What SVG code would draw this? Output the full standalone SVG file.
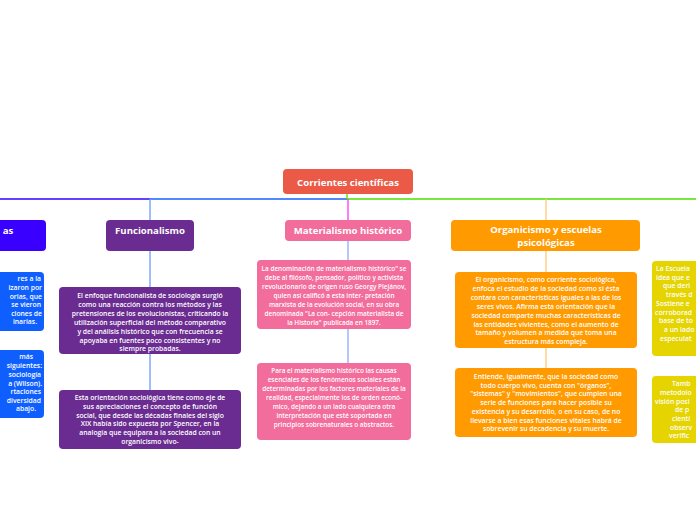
<svg xmlns="http://www.w3.org/2000/svg" width="696" height="520" viewBox="0 0 696 520">
<style>
.t{font-family:"Open Sans","Liberation Sans",sans-serif;fill:#fff;font-weight:600;font-size:6.8px;text-anchor:middle}
.s{font-size:6.4px}
.h{font-family:"Open Sans","Liberation Sans",sans-serif;fill:#fff;font-weight:700;font-size:9.6px;text-anchor:middle}
.l{fill:none;stroke-width:1.3}
</style>
<rect width="696" height="520" fill="#fff"/>
<g id="connectors">
<path class="l" stroke="#3300ff" d="M0 199H150"/>
<path class="l" stroke="#1a5fff" d="M150 199H347"/>
<path class="l" stroke="#4fe000" d="M347 199H696M347 194V199"/>
<path class="l" stroke="#ff33ff" d="M348 199V220"/>
<path class="l" stroke="#6c9cff" d="M150 199V221M150 251V287M150 354V390"/>
<path class="l" stroke="#8fa8ff" d="M348 241V260M348 329V363"/>
<path class="l" stroke="#ffc878" d="M546 199V220M546 251V272M546 348V368"/>
</g>
<g id="title">
<rect x="283" y="169" width="130" height="25" rx="4" fill="#eb5a47"/>
<text class="h" x="348" y="185.5">Corrientes científicas</text>
</g>
<g id="left-head">
<rect x="-20" y="220" width="66" height="31" rx="4" fill="#3a00ff"/>
<text class="h" x="8" y="234">as</text>
</g>
<g id="left-1">
<rect x="-20" y="272" width="64" height="59" rx="4" fill="#0f5fff"/>
<g class="t" style="text-anchor:end">
<text x="41" y="281">res a la</text>
<text x="42" y="290">izaron por</text>
<text x="42" y="299">orias, que</text>
<text x="41" y="307">se vieron</text>
<text x="42" y="315.5">ciones de</text>
<text x="37" y="324">inarias.</text>
</g>
</g>
<g id="left-2">
<rect x="-20" y="350" width="64" height="68" rx="4" fill="#0f5fff"/>
<g class="t" style="text-anchor:end">
<text x="33" y="359">más</text>
<text x="42" y="368">siguientes:</text>
<text x="41" y="377">sociología</text>
<text x="42" y="385.5">a (Wilson).</text>
<text x="41" y="394">rtaciones</text>
<text x="41" y="402.5">diversidad</text>
<text x="36" y="411">abajo.</text>
</g>
</g>
<g id="funcionalismo">
<rect x="106" y="220" width="88" height="31" rx="4" fill="#6a2c90"/>
<text class="h" x="150" y="234">Funcionalismo</text>
</g>
<g id="func-1">
<rect x="59" y="287" width="182" height="67" rx="4" fill="#6a2c90"/>
<g class="t">
<text x="150" y="298">El enfoque funcionalista de sociología surgió</text>
<text x="150" y="307">como una reacción contra los métodos y las</text>
<text x="150" y="316">pretensiones de los evolucionistas, criticando la</text>
<text x="150" y="325">utilización superficial del método comparativo</text>
<text x="150" y="334">y del análisis histórico que con frecuencia se</text>
<text x="150" y="343">apoyaba en fuentes poco consistentes y no</text>
<text x="150" y="351">siempre probadas.</text>
</g>
</g>
<g id="func-2">
<rect x="59" y="390" width="182" height="59" rx="4" fill="#6a2c90"/>
<g class="t">
<text x="150" y="399.5">Esta orientación sociológica tiene como eje de</text>
<text x="150" y="408.5">sus apreciaciones el concepto de función</text>
<text x="150" y="417.5">social, que desde las décadas finales del siglo</text>
<text x="150" y="426">XIX había sido expuesta por Spencer, en la</text>
<text x="150" y="435">analogía que equipara a la sociedad con un</text>
<text x="150" y="443.5">organicismo vivo-</text>
</g>
</g>
<g id="materialismo">
<rect x="285" y="220" width="126" height="21" rx="4" fill="#f26d9b"/>
<text class="h" x="348" y="234">Materialismo histórico</text>
</g>
<g id="mat-1">
<rect x="257" y="260" width="154" height="69" rx="4" fill="#f26d9b"/>
<g class="t s">
<text x="334" y="270.5">La denominación de materialismo histórico" se</text>
<text x="334" y="279.5">debe al filósofo, pensador, político y activista</text>
<text x="334" y="288.5">revolucionario de origen ruso Georgy Plejánov,</text>
<text x="334" y="297.5">quien así calificó a esta inter- pretación</text>
<text x="334" y="306.5">marxista de la evolución social, en su obra</text>
<text x="334" y="315.5">denominada "La con- cepción materialista de</text>
<text x="334" y="324.5">la Historia" publicada en 1897.</text>
</g>
</g>
<g id="mat-2">
<rect x="257" y="363" width="154" height="77" rx="4" fill="#f26d9b"/>
<g class="t s">
<text x="334" y="372.5">Para el materialismo histórico las causas</text>
<text x="334" y="381.5">esenciales de los fenómenos sociales están</text>
<text x="334" y="390.5">determinadas por los factores materiales de la</text>
<text x="334" y="399.5">realidad, especialmente los de orden econó-</text>
<text x="334" y="408.5">mico, dejando a un lado cualquiera otra</text>
<text x="334" y="417.5">interpretación que esté soportada en</text>
<text x="334" y="426.5">principios sobrenaturales o abstractos.</text>
</g>
</g>
<g id="organicismo">
<rect x="451" y="220" width="189" height="31" rx="4" fill="#ff9a00"/>
<text class="h" x="546" y="233">Organicismo y escuelas</text>
<text class="h" x="546" y="245.5">psicológicas</text>
</g>
<g id="org-1">
<rect x="455" y="272" width="182" height="76" rx="4" fill="#ff9a00"/>
<g class="t">
<text x="546" y="282">El organicismo, como corriente sociológica,</text>
<text x="546" y="291">enfoca el estudio de la sociedad como si ésta</text>
<text x="546" y="300">contara con características iguales a las de los</text>
<text x="546" y="308.5">seres vivos. Afirma esta orientación que la</text>
<text x="546" y="317.5">sociedad comparte muchas características de</text>
<text x="546" y="326.5">las entidades vivientes, como el aumento de</text>
<text x="546" y="335">tamaño y volumen a medida que toma una</text>
<text x="546" y="344">estructura más compleja.</text>
</g>
</g>
<g id="org-2">
<rect x="455" y="368" width="182" height="69" rx="4" fill="#ff9a00"/>
<g class="t">
<text x="546" y="378.5">Entiende, igualmente, que la sociedad como</text>
<text x="546" y="387.5">todo cuerpo vivo, cuenta con "órganos",</text>
<text x="546" y="396">"sistemas" y "movimientos", que cumplen una</text>
<text x="546" y="405">serie de funciones para hacer posible su</text>
<text x="546" y="413.5">existencia y su desarrollo, o en su caso, de no</text>
<text x="546" y="422.5">llevarse a bien esas funciones vitales habrá de</text>
<text x="546" y="431">sobrevenir su decadencia y su muerte.</text>
</g>
</g>
<g id="right-1">
<rect x="652" y="261" width="70" height="95" rx="4" fill="#e5d400"/>
<g class="t" style="text-anchor:start">
<text x="656" y="270.5">La Escuela</text>
<text x="656" y="279.5">idea que e</text>
<text x="663" y="288">que deri</text>
<text x="666" y="296.5">través d</text>
<text x="656" y="305.5">Sostiene e</text>
<text x="655" y="314.5">corroborad</text>
<text x="659" y="323">base de to</text>
<text x="664" y="332">a un lado</text>
<text x="660" y="341">especulat</text>
</g>
</g>
<g id="right-2">
<rect x="652" y="376" width="70" height="67" rx="4" fill="#e5d400"/>
<g class="t" style="text-anchor:start">
<text x="672" y="386">Tamb</text>
<text x="660" y="394.5">metodolo</text>
<text x="655" y="403.5">visión posi</text>
<text x="675" y="412">de p</text>
<text x="672" y="420.5">cientí</text>
<text x="670" y="429.5">observ</text>
<text x="669" y="438">verific</text>
</g>
</g>
</svg>
